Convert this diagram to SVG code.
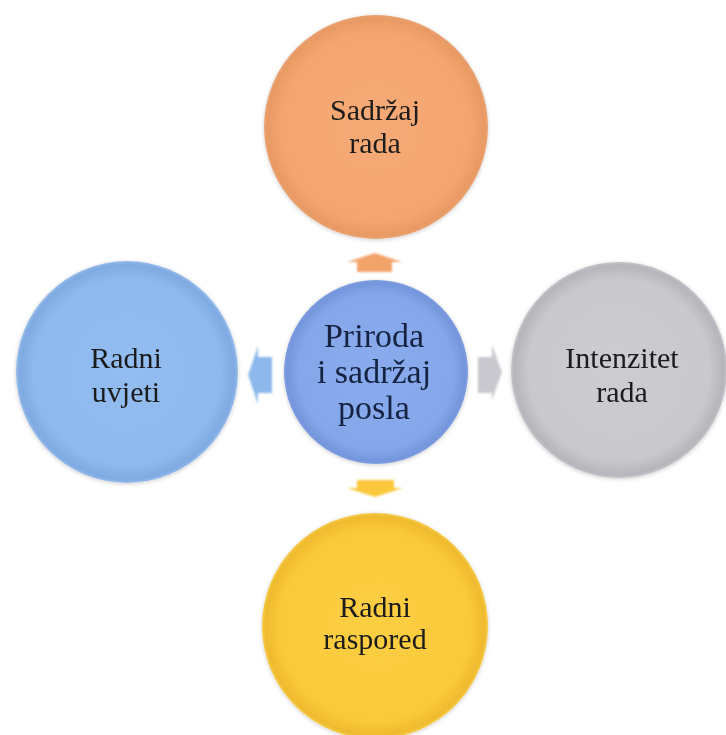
<svg xmlns="http://www.w3.org/2000/svg" width="726" height="735" viewBox="0 0 726 735">
<defs>
<radialGradient id="gOrange" cx="50%" cy="50%" r="50%">
<stop offset="0" stop-color="#F6AA76"/><stop offset="0.84" stop-color="#F4A66F"/><stop offset="0.97" stop-color="#E99A64"/><stop offset="1" stop-color="#E9A272"/>
</radialGradient>
<radialGradient id="gCenter" cx="50%" cy="50%" r="50%">
<stop offset="0" stop-color="#8AACEE"/><stop offset="0.84" stop-color="#85A7EA"/><stop offset="0.97" stop-color="#7595DC"/><stop offset="1" stop-color="#809FE0"/>
</radialGradient>
<radialGradient id="gLeft" cx="50%" cy="50%" r="50%">
<stop offset="0" stop-color="#93BDF0"/><stop offset="0.84" stop-color="#8EB9EC"/><stop offset="0.97" stop-color="#7FAAE2"/><stop offset="1" stop-color="#98BDEB"/>
</radialGradient>
<radialGradient id="gGray" cx="50%" cy="50%" r="50%">
<stop offset="0" stop-color="#CCCCD1"/><stop offset="0.84" stop-color="#C8C8CD"/><stop offset="0.97" stop-color="#B5B5BB"/><stop offset="1" stop-color="#C4C4CA"/>
</radialGradient>
<radialGradient id="gYellow" cx="50%" cy="50%" r="50%">
<stop offset="0" stop-color="#FCCE42"/><stop offset="0.84" stop-color="#FBCA3A"/><stop offset="0.97" stop-color="#EFBA2E"/><stop offset="1" stop-color="#F6CB48"/>
</radialGradient>
<filter id="soft" x="-10%" y="-10%" width="120%" height="120%">
<feGaussianBlur in="SourceAlpha" stdDeviation="2"/>
<feOffset dx="0" dy="1" result="b"/>
<feComponentTransfer><feFuncA type="linear" slope="0.2"/></feComponentTransfer>
<feMerge><feMergeNode/><feMergeNode in="SourceGraphic"/></feMerge>
</filter>
<filter id="blur1"><feGaussianBlur stdDeviation="0.8"/></filter>
</defs>
<style>
.lbl{font-family:"Liberation Serif","Times New Roman",serif;font-size:30px;text-anchor:middle;fill:#1a1a1a}
.lblc{font-family:"Liberation Serif","Times New Roman",serif;font-size:34px;text-anchor:middle;fill:#13213f}
.arr{filter:url(#blur1)}
</style>
<rect width="726" height="735" fill="#ffffff"/>
<g id="connectors">
<polygon class="arr" points="375,253 402,262 392,262 392,272 357,272 357,262 347,262" fill="#F2A36B"/>
<polygon class="arr" points="248,375 258,346 258,357 272,357 272,393 258,393 258,404" fill="#8DB8EC"/>
<polygon class="arr" points="502,372 492,345 492,357 478,357 478,393 492,393 492,400" fill="#C8C8CE"/>
<polygon class="arr" points="357,480 394,480 394,488 403,488 375,497 347,488 357,488" fill="#FBC83A"/>
</g>
<g id="node-top" filter="url(#soft)">
<circle cx="376" cy="127" r="112" fill="url(#gOrange)"/>
<text class="lbl" x="375" y="120">Sadržaj</text>
<text class="lbl" x="375" y="153">rada</text>
</g>
<g id="node-left" filter="url(#soft)">
<circle cx="127" cy="372" r="111" fill="url(#gLeft)"/>
<text class="lbl" x="126" y="368">Radni</text>
<text class="lbl" x="126" y="402">uvjeti</text>
</g>
<g id="node-right" filter="url(#soft)">
<circle cx="619" cy="370" r="108" fill="url(#gGray)"/>
<text class="lbl" x="622" y="368">Intenzitet</text>
<text class="lbl" x="622" y="402">rada</text>
</g>
<g id="node-bottom" filter="url(#soft)">
<circle cx="375" cy="626" r="113" fill="url(#gYellow)"/>
<text class="lbl" x="375" y="617">Radni</text>
<text class="lbl" x="375" y="649">raspored</text>
</g>
<g id="node-center" filter="url(#soft)">
<circle cx="376" cy="372" r="92" fill="url(#gCenter)"/>
<text class="lblc" x="374" y="347">Priroda</text>
<text class="lblc" x="374" y="383">i sadržaj</text>
<text class="lblc" x="374" y="419">posla</text>
</g>
</svg>
